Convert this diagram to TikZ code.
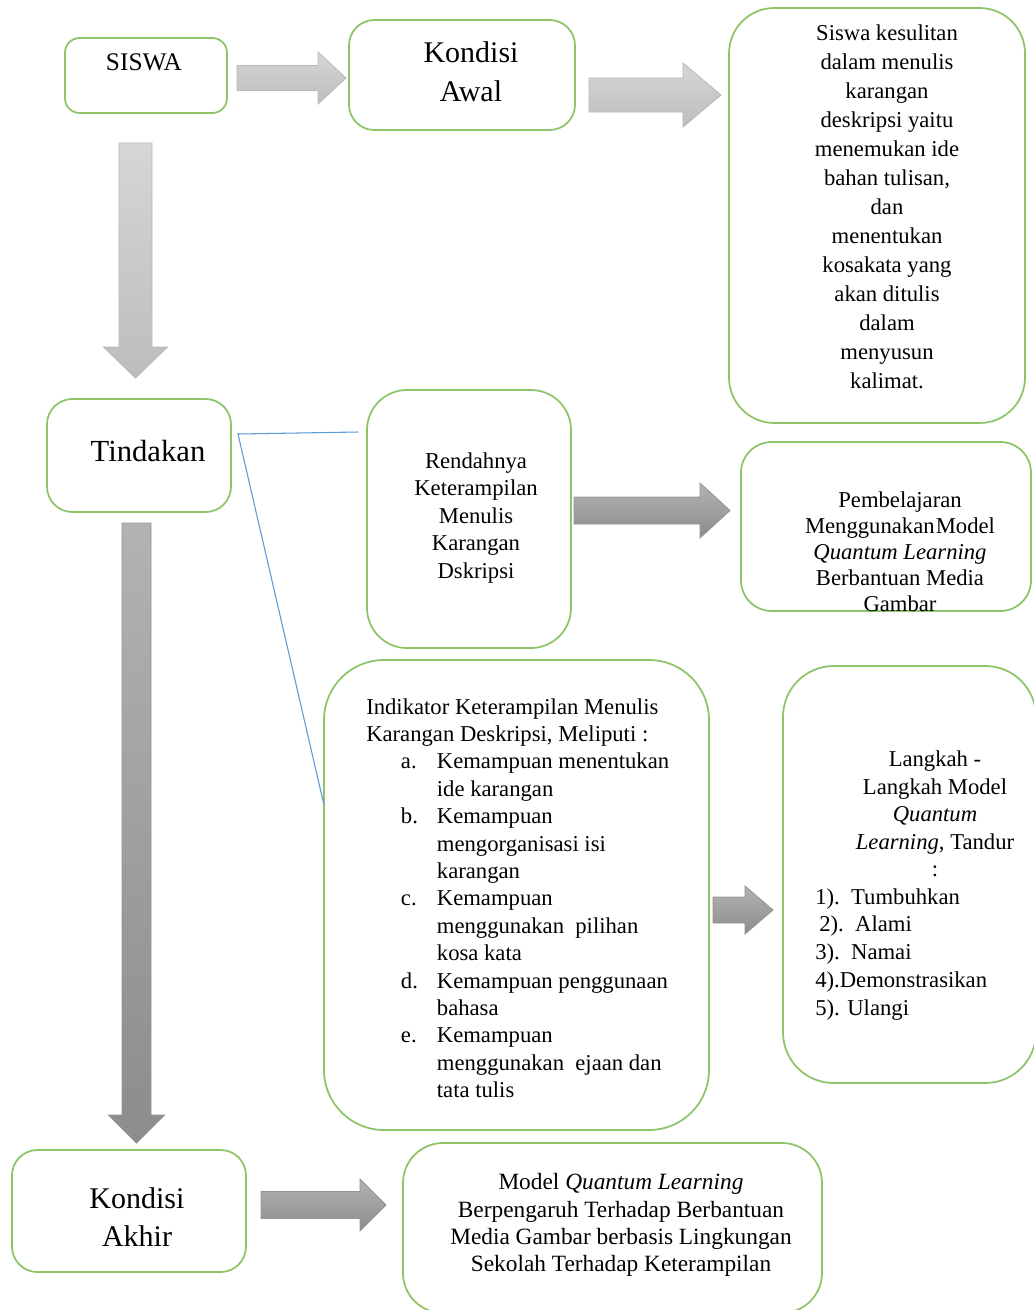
\documentclass[tikz,border=0pt]{standalone}
\usepackage{fontspec}
\setmainfont{Liberation Serif}
\usetikzlibrary{fit,calc}
\definecolor{boxgreen}{RGB}{141,196,104}
\definecolor{lineblue}{RGB}{91,155,213}
\newcommand\blockH[7]{\path[#7] (#1,#3-#4) -- (#2-#6,#3-#4) -- (#2-#6,#3-#5) -- (#2,#3) -- (#2-#6,#3+#5) -- (#2-#6,#3+#4) -- (#1,#3+#4) -- cycle;}
\newcommand\blockV[7]{\path[#7] (#1-#4,#2) -- (#1-#4,#3-#6) -- (#1-#5,#3-#6) -- (#1,#3) -- (#1+#5,#3-#6) -- (#1+#4,#3-#6) -- (#1+#4,#2) -- cycle;}
\tikzset{
 box/.style={draw=boxgreen, line width=1.3pt, fill=white, inner sep=0pt},
 lightarrow/.style={draw=black!28, line width=0.6pt, top color=black!16, bottom color=black!26},
 darkarrow/.style={draw=black!42, line width=0.6pt, top color=black!30, bottom color=black!45},
 txt/.style={inner sep=0pt, align=center},
 blueline/.style={draw=lineblue, line width=0.8pt},
}
\begin{document}
\begin{tikzpicture}[x=0.75pt,y=-0.75pt]
\useasboundingbox[fill=white] (0,0) rectangle (1033,1310);

% boxes
\node[box, rounded corners=11pt, fit={(65,38) (227,113)}] (siswa) {};
\node[box, rounded corners=19pt, fit={(349,20) (575,130)}] (awal) {};
\node[box, rounded corners=34pt, fit={(729,8) (1025,423)}] (sulit) {};
\node[box, rounded corners=19pt, fit={(47,399) (231,512)}] (tind) {};
\node[box, rounded corners=30pt, fit={(367,390) (571,648)}] (rend) {};
\node[box, rounded corners=23pt, fit={(741,442) (1031,611)}] (pemb) {};
\node[box, rounded corners=45pt, fit={(324,660) (709,1130)}] (indik) {};
\node[box, rounded corners=38pt, fit={(783,666) (1036,1083)}] (lang) {};
\node[box, rounded corners=19pt, fit={(12,1150) (246,1272)}] (akhir) {};
\node[box, rounded corners=30pt, fit={(403,1143) (822,1313)}] (model) {};

% block arrows
\blockH{237}{346}{78}{12.5}{26}{28}{lightarrow}
\blockH{589}{721}{95}{17}{32}{38}{lightarrow}
\blockV{135.5}{143}{378}{16.5}{32}{31}{lightarrow}
\blockH{574}{730}{510.5}{13.5}{27.5}{30}{darkarrow}
\blockV{136.5}{523}{1143}{14.5}{28}{28}{darkarrow}
\blockH{713}{773}{910}{13}{24}{28}{darkarrow}
\blockH{261}{386}{1205}{13.5}{26}{26}{darkarrow}

% blue connector
\coordinate (bl1) at (358,432);
\coordinate (bl2) at (238,434);
\coordinate (bl3) at (324,805);
\draw[blueline] (bl1) -- (bl2) -- (bl3);

% texts
\node[txt, font=\fontsize{19}{23}\selectfont] (tsiswa) at (144,62) {SISWA};
\node[txt, font=\fontsize{22.5}{29}\selectfont] (tawal) at (471,72) {Kondisi\\Awal};
\node[txt, font=\fontsize{17}{21.75}\selectfont] (tsulit) at (887,207) {Siswa kesulitan\\dalam menulis\\karangan\\deskripsi yaitu\\menemukan ide\\bahan tulisan,\\dan\\menentukan\\kosakata yang\\akan ditulis\\dalam\\menyusun\\kalimat.};
\node[txt, font=\fontsize{23}{28}\selectfont] (ttind) at (148,451) {Tindakan};
\node[txt, font=\fontsize{17}{20.6}\selectfont] (trend) at (476,518) {Rendahnya\\Keterampilan\\Menulis\\Karangan\\Dskripsi};
\node[txt, font=\fontsize{17}{19.5}\selectfont] (tpemb) at (900,552) {Pembelajaran\\Menggunakan\hspace{0.05em}Model\\\textit{Quantum Learning}\\Berbantuan Media\\Gambar};
\node[txt, align=left, anchor=north west, font=\fontsize{17}{20.55}\selectfont] (tindik) at (366,698) {Indikator Keterampilan Menulis\\
Karangan Deskripsi, Meliputi :\\
\hspace*{26pt}\makebox[27pt][l]{a.}Kemampuan menentukan\\
\hspace*{53pt}ide karangan\\
\hspace*{26pt}\makebox[27pt][l]{b.}Kemampuan\\
\hspace*{53pt}mengorganisasi isi\\
\hspace*{53pt}karangan\\
\hspace*{26pt}\makebox[27pt][l]{c.}Kemampuan\\
\hspace*{53pt}menggunakan\ \ pilihan\\
\hspace*{53pt}kosa kata\\
\hspace*{26pt}\makebox[27pt][l]{d.}Kemampuan penggunaan\\
\hspace*{53pt}bahasa\\
\hspace*{26pt}\makebox[27pt][l]{e.}Kemampuan\\
\hspace*{53pt}menggunakan\ \ ejaan dan\\
\hspace*{53pt}tata tulis};
\node[txt, font=\fontsize{17}{20.6}\selectfont] (tlangh) at (935,814) {Langkah -\\Langkah Model\\\textit{Quantum}\\\textit{Learning}, Tandur\\:};
\node[txt, align=left, anchor=north west, font=\fontsize{17}{20.9}\selectfont] (tlangl) at (815,888) {1).\ \ Tumbuhkan\\\hspace*{3pt}2).\ \ Alami\\3).\ \ Namai\\4).Demonstrasikan\\5). Ulangi};
\node[txt, font=\fontsize{22.5}{28}\selectfont] (takhir) at (137,1217) {Kondisi\\Akhir};
\node[txt, font=\fontsize{17.5}{20.4}\selectfont] (tmodel) at (621,1225) {Model \textit{Quantum Learning}\\Berpengaruh Terhadap Berbantuan\\Media Gambar berbasis Lingkungan\\Sekolah Terhadap Keterampilan};
\end{tikzpicture}
\end{document}
